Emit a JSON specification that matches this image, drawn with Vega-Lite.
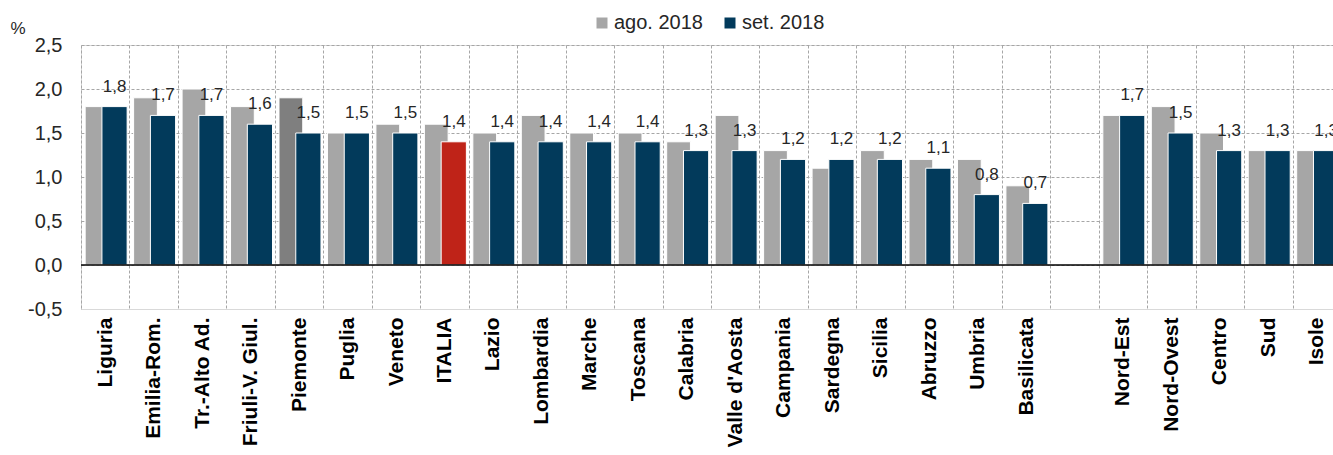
{
  "$schema": "https://vega.github.io/schema/vega-lite/v6.json",
  "autosize": "none",
  "width": 1252,
  "height": 264,
  "padding": {"left": 81, "top": 45, "right": 0, "bottom": 146},
  "config": {
    "locale": {"number": {"decimal": ",", "thousands": ".", "grouping": [3], "currency": ["€", ""], "minus": "-"}},
    "font": "Liberation Sans, Arial, sans-serif",
    "view": {"stroke": "#d9d9d9", "strokeWidth": 1}
  },
  "data": {
    "values": [
      {"region": "Liguria", "ago": 1.8, "set": 1.8},
      {"region": "Emilia-Rom.", "ago": 1.9, "set": 1.7},
      {"region": "Tr.-Alto Ad.", "ago": 2.0, "set": 1.7},
      {"region": "Friuli-V. Giul.", "ago": 1.8, "set": 1.6},
      {"region": "Piemonte", "ago": 1.9, "set": 1.5},
      {"region": "Puglia", "ago": 1.5, "set": 1.5},
      {"region": "Veneto", "ago": 1.6, "set": 1.5},
      {"region": "ITALIA", "ago": 1.6, "set": 1.4},
      {"region": "Lazio", "ago": 1.5, "set": 1.4},
      {"region": "Lombardia", "ago": 1.7, "set": 1.4},
      {"region": "Marche", "ago": 1.5, "set": 1.4},
      {"region": "Toscana", "ago": 1.5, "set": 1.4},
      {"region": "Calabria", "ago": 1.4, "set": 1.3},
      {"region": "Valle d'Aosta", "ago": 1.7, "set": 1.3},
      {"region": "Campania", "ago": 1.3, "set": 1.2},
      {"region": "Sardegna", "ago": 1.1, "set": 1.2},
      {"region": "Sicilia", "ago": 1.3, "set": 1.2},
      {"region": "Abruzzo", "ago": 1.2, "set": 1.1},
      {"region": "Umbria", "ago": 1.2, "set": 0.8},
      {"region": "Basilicata", "ago": 0.9, "set": 0.7},
      {"region": "Nord-Est", "ago": 1.7, "set": 1.7},
      {"region": "Nord-Ovest", "ago": 1.8, "set": 1.5},
      {"region": "Centro", "ago": 1.5, "set": 1.3},
      {"region": "Sud", "ago": 1.3, "set": 1.3},
      {"region": "Isole", "ago": 1.3, "set": 1.3}
    ]
  },
  "transform": [{"fold": ["ago", "set"], "as": ["series", "value"]}],
  "layer": [
    {
      "transform": [{"filter": "datum.series == 'ago'"}],
      "mark": {"type": "bar", "width": {"band": 0.49}, "xOffset": -8.2, "stroke": "white", "strokeWidth": 1},
      "encoding": {
        "x": {
          "field": "region", "type": "nominal", "sort": null,
          "scale": {
            "domain": ["Liguria", "Emilia-Rom.", "Tr.-Alto Ad.", "Friuli-V. Giul.", "Piemonte", "Puglia", "Veneto", "ITALIA", "Lazio", "Lombardia", "Marche", "Toscana", "Calabria", "Valle d'Aosta", "Campania", "Sardegna", "Sicilia", "Abruzzo", "Umbria", "Basilicata", " ", "Nord-Est", "Nord-Ovest", "Centro", "Sud", "Isole"],
            "range": [0, 1260], "paddingInner": 0, "paddingOuter": 0
          },
          "axis": {
            "title": null, "labelAngle": -90, "labelFontSize": 21, "labelFontWeight": "bold", "labelColor": "#000000",
            "labelPadding": 8, "ticks": false, "tickBand": "extent", "grid": true, "gridDash": [3, 2], "gridColor": "#a6a6a6",
            "domainColor": "#d9d9d9", "labelOverlap": false, "labelLimit": 0
          }
        },
        "y": {
          "field": "value", "type": "quantitative",
          "scale": {"domain": [-0.5, 2.5], "nice": false, "zero": false},
          "axis": {
            "values": [-0.5, 0, 0.5, 1, 1.5, 2, 2.5], "format": ".1f", "labelFontSize": 20, "labelColor": "#262626",
            "labelPadding": 19, "ticks": false, "domain": false, "gridDash": [3, 2], "gridColor": "#a6a6a6",
            "title": "%", "titleAngle": 0, "titleX": -71, "titleY": -12, "titleAlign": "left", "titleBaseline": "alphabetic",
            "titleFontSize": 17, "titleFontWeight": "normal", "titleColor": "#262626"
          }
        },
        "color": {
          "condition": {"test": "datum.region == 'Piemonte'", "value": "#7f7f7f"},
          "field": "series", "type": "nominal",
          "scale": {"domain": ["ago", "set"], "range": ["#a6a6a6", "#023a5b"]},
          "legend": {
            "orient": "none", "legendX": 511, "legendY": -32, "direction": "horizontal", "title": null,
            "symbolType": "square", "symbolSize": 121, "symbolStrokeWidth": 0, "labelFontSize": 20, "labelColor": "#262626",
            "labelOffset": 2, "columnPadding": 17,
            "labelExpr": "datum.label == 'ago' ? 'ago. 2018' : 'set. 2018'"
          }
        }
      }
    },
    {
      "transform": [{"filter": "datum.series == 'set'"}],
      "mark": {"type": "bar", "width": {"band": 0.52}, "xOffset": 9.3, "stroke": "white", "strokeWidth": 1},
      "encoding": {
        "x": {"field": "region", "type": "nominal", "sort": null},
        "y": {"field": "value", "type": "quantitative"},
        "color": {
          "condition": {"test": "datum.region == 'ITALIA'", "value": "#bf2318"},
          "field": "series", "type": "nominal"
        }
      }
    },
    {
      "transform": [{"filter": "datum.series == 'set'"}],
      "mark": {"type": "text", "xOffset": 9.3, "dy": -15, "baseline": "alphabetic", "align": "center", "fontSize": 17, "color": "#262626"},
      "encoding": {
        "x": {"field": "region", "type": "nominal", "sort": null},
        "y": {"field": "value", "type": "quantitative"},
        "text": {"field": "value", "type": "quantitative", "format": ".1f"}
      }
    },
    {
      "data": {"values": [{}]},
      "mark": {"type": "rule", "color": "#000000", "strokeWidth": 1.5},
      "encoding": {"y": {"datum": 0}}
    }
  ]
}
